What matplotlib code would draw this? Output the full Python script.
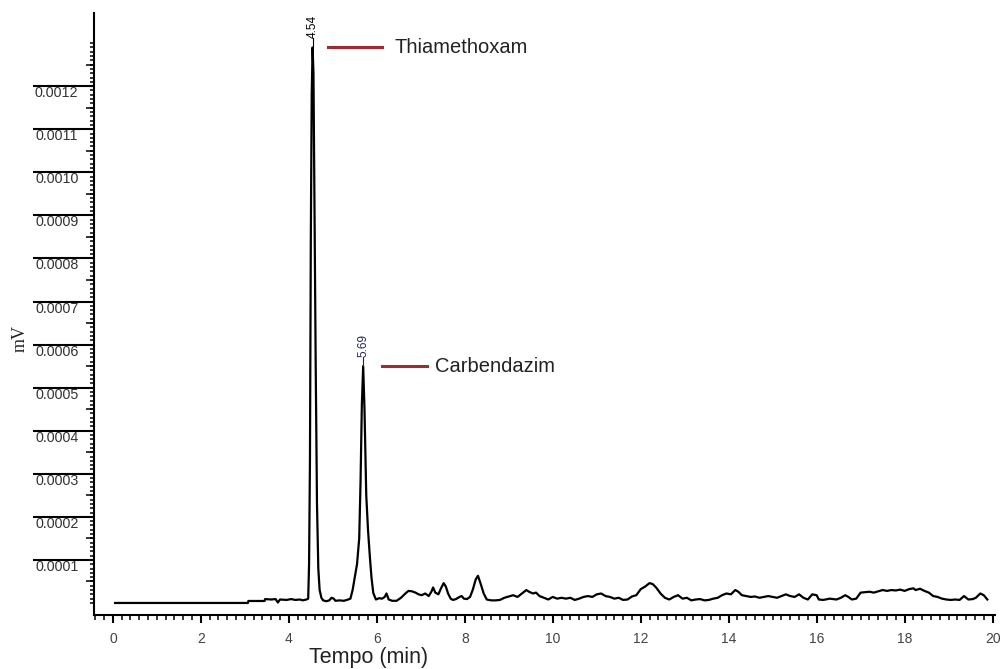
import numpy as np
import matplotlib
matplotlib.use("Agg")
import matplotlib.pyplot as plt
from matplotlib.ticker import FixedLocator

plt.rcParams['font.family'] = ['Liberation Sans', 'DejaVu Sans']

# Chromatogram trace: retention time (min) and detector signal (in 1e-6 mV)
time = [0.05, 3.07, 3.08, 3.45, 3.46, 3.60, 3.70, 3.75, 3.80, 3.95, 4.05, 4.15, 4.25, 4.32,
        4.40, 4.44, 4.46, 4.48, 4.50, 4.52, 4.54, 4.56, 4.58, 4.61, 4.64, 4.67, 4.70, 4.74,
        4.78, 4.85, 4.92,
        4.97, 5.02, 5.06, 5.15, 5.25, 5.32, 5.40, 5.45, 5.50, 5.55, 5.60, 5.63, 5.66, 5.69,
        5.72, 5.76, 5.80, 5.84, 5.88, 5.92, 5.98, 6.05, 6.12, 6.18, 6.22, 6.27, 6.35, 6.45,
        6.55, 6.65, 6.72, 6.80, 6.88, 6.95, 7.02, 7.10, 7.18, 7.24, 7.28, 7.33, 7.40, 7.46,
        7.52, 7.57, 7.62, 7.68, 7.73, 7.80, 7.88, 7.93, 7.98, 8.05, 8.12, 8.18, 8.25, 8.30,
        8.36, 8.43, 8.50, 8.60, 8.70, 8.80, 8.90, 9.00, 9.10, 9.20, 9.30, 9.40, 9.46, 9.55,
        9.62, 9.70, 9.80, 9.90, 10.0, 10.1, 10.2, 10.3, 10.4, 10.5, 10.6, 10.7, 10.8, 10.9,
        11.0, 11.1, 11.2, 11.3, 11.4, 11.5, 11.6, 11.7, 11.8, 11.9, 12.0, 12.1, 12.2, 12.27,
        12.35, 12.45, 12.55, 12.65, 12.75, 12.85, 12.95, 13.05, 13.15, 13.25, 13.35, 13.45,
        13.55, 13.65, 13.75, 13.85, 13.95, 14.05, 14.15, 14.22, 14.3, 14.4, 14.5, 14.6, 14.7,
        14.8, 14.9, 15.0, 15.1, 15.2, 15.3, 15.4, 15.5, 15.6, 15.7, 15.8, 15.9, 16.0, 16.05,
        16.15, 16.3, 16.45, 16.55, 16.65, 16.72, 16.8, 16.9, 17.0, 17.1, 17.2, 17.3, 17.4,
        17.5, 17.6, 17.7, 17.8, 17.9, 18.0, 18.1, 18.2, 18.25, 18.35, 18.45, 18.55, 18.65,
        18.75, 18.85, 18.95, 19.05, 19.15, 19.25, 19.35, 19.45, 19.55, 19.62, 19.72, 19.8,
        19.88]
signal = [0, 0, 4.6, 4.6, 9, 8, 9, 1, 8, 7, 9, 7, 8, 6,
          8, 10, 90, 330, 850, 1180, 1290, 1230, 960, 560, 230, 80, 30, 12,
          6, 4, 6,
          12, 10, 5, 6, 5, 7, 10, 30, 60, 90, 150, 280, 460, 550,
          450, 250, 170, 110, 58, 23, 8, 11, 10, 14, 22, 8, 5, 5,
          12, 22, 28, 27, 24, 20, 18, 22, 16, 26, 36, 24, 20, 34,
          46, 38, 22, 10, 7, 9, 14, 16, 10, 9, 14, 30, 55, 63,
          45, 22, 8, 6, 6, 7, 12, 15, 18, 14, 22, 30, 26, 22,
          24, 16, 12, 8, 14, 10, 12, 10, 12, 7, 10, 14, 16, 14,
          20, 22, 16, 14, 10, 12, 7, 8, 15, 18, 32, 38, 46, 44,
          36, 22, 12, 8, 14, 18, 10, 12, 6, 8, 9, 6,
          7, 10, 12, 18, 22, 20, 30, 26, 18, 16, 14, 15, 12,
          14, 16, 14, 12, 16, 20, 16, 14, 20, 12, 8, 20, 18, 8,
          7, 10, 8, 12, 18, 14, 8, 10, 24, 25, 26, 24, 27,
          30, 28, 30, 29, 31, 28, 32, 34, 30, 33, 28, 24, 16,
          14, 10, 8, 7, 8, 7, 16, 8, 9, 12, 22, 18,
          8]

# Identified peaks
compounds = ['Thiamethoxam', 'Carbendazim']
peak_rt = [4.54, 5.69]
peak_height = [1290, 550]

y_major = [0.0001, 0.0002, 0.0003, 0.0004, 0.0005, 0.0006,
           0.0007, 0.0008, 0.0009, 0.0010, 0.0011, 0.0012]
x_major = [0, 2, 4, 6, 8, 10, 12, 14, 16, 18, 20]

t = np.array(time)
s = np.array(signal) * 1e-6

fig = plt.figure(figsize=(10.02, 6.69), dpi=100)
ax = fig.add_axes([0.0938, 0.0807, 0.899, 0.8999])

ax.plot(t, s, color='black', lw=1.6)

ax.set_xlim(-0.43, 20.05)
ax.set_ylim(-2.8e-5, 1.37e-3)

for side in ['top', 'right']:
    ax.spines[side].set_visible(False)
for side in ['left', 'bottom']:
    ax.spines[side].set_linewidth(1.5)

# y axis: long major ticks with the labels hanging just underneath
ax.yaxis.set_major_locator(FixedLocator(y_major))
ax.set_yticklabels([f"{v:.4f}" for v in y_major])
ax.yaxis.set_minor_locator(FixedLocator(np.arange(0, 1.305e-3, 1e-5)))
ax.tick_params(axis='y', which='major', length=44, width=1.5, pad=-32.8,
               labelsize=10.3, labelcolor='#333333')
ax.tick_params(axis='y', which='minor', length=3, width=1.1)
plt.setp(ax.get_yticklabels(), va='top')

# mid-way ticks on the y axis
mid = ax.secondary_yaxis('left')
mid.set_yticks(np.arange(0.00005, 0.0013, 0.0001))
mid.set_yticklabels([])
mid.tick_params(length=6, width=1.1)
mid.spines['left'].set_visible(False)

# x axis
ax.xaxis.set_major_locator(FixedLocator(x_major))
ax.xaxis.set_minor_locator(FixedLocator(np.arange(-0.4, 20.01, 0.2)))
ax.tick_params(axis='x', which='major', length=6, width=1.5, pad=6,
               labelsize=10, labelcolor='#444444')
ax.tick_params(axis='x', which='minor', length=3.5, width=1.1)

# retention time markers and compound names
label_x0 = [4.89, 6.11]
label_x1 = [6.11, 7.14]
text_x = [6.41, 7.32]
rt_colors = ['black', '#24245a']
for name, rt, h, x0, x1, tx, c in zip(compounds, peak_rt, peak_height,
                                       label_x0, label_x1, text_x, rt_colors):
    top = h * 1e-6
    ax.plot([rt, rt], [top, top + 2.2e-5], color=c, lw=0.8)
    ax.text(rt, top + 2.2e-5, f"{rt:.2f}", rotation=90, ha='center', va='bottom',
            fontsize=8.5, color=c)
    ax.plot([x0, x1], [top, top], color='#9b2d30', lw=2.2)
    ax.text(tx, top, name, ha='left', va='center', fontsize=14.5, color='#222222')

fig.text(369 / 1002, 1 - 658 / 669, 'Tempo (min)', ha='center', va='center',
         fontsize=15.5, color='#222222')
fig.text(20 / 1002, 1 - 338 / 669, 'mV', rotation=90, ha='center', va='center',
         fontsize=13, family=['Liberation Serif'], color='#222222')

fig.savefig('out.png', dpi=100)
